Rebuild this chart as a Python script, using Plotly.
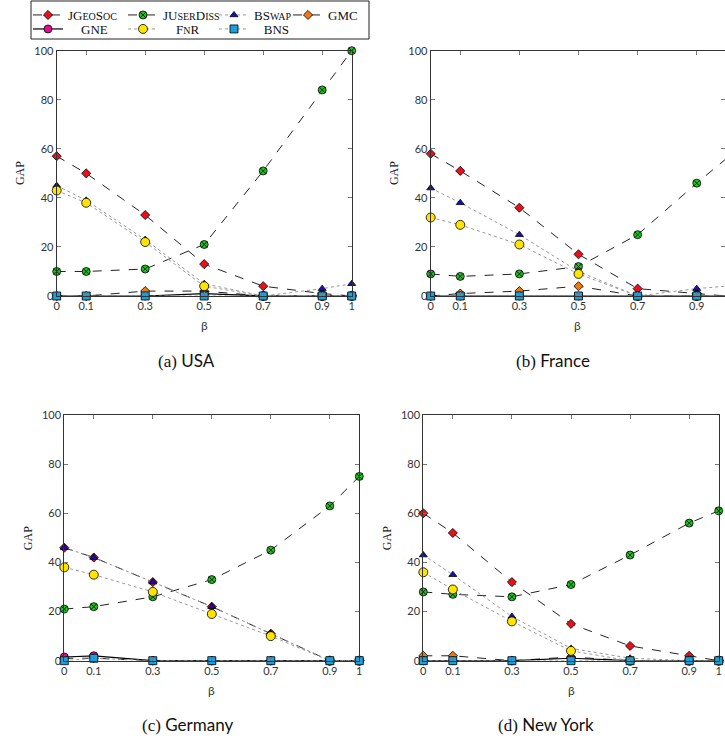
import plotly.graph_objects as go

W, H = 725, 742

beta = [0, 0.1, 0.3, 0.5, 0.7, 0.9, 1]
beta_ticks = ["0", "0.1", "0.3", "0.5", "0.7", "0.9", "1"]
gap_ticks = [0, 20, 40, 60, 80, 100]

# values per panel: JGeoSoc, JUserDiss, BSwap, GMC, GNE, FnR, BNS
usa_jgeosoc = [57, 50, 33, 13, 4, 1, 0]
usa_juserdiss = [10, 10, 11, 21, 51, 84, 100]
usa_bswap = [45, 39, 23, 5, 0, 3, 5]
usa_gmc = [0, 0, 2, 2, 0, 0, 0]
usa_gne = [0, 0, 0, 1, 0, 0, 0]
usa_fnr = [43, 38, 22, 4, 0, 0, 0]
usa_bns = [0, 0, 0, 0, 0, 0, 0]

fr_jgeosoc = [58, 51, 36, 17, 3, 1, 0]
fr_juserdiss = [9, 8, 9, 12, 25, 46, 56]
fr_bswap = [44, 38, 25, 10, 0, 3, 4]
fr_gmc = [0, 1, 2, 4, 0, 0, 0]
fr_gne = [0, 0, 0, 0, 0, 0, 0]
fr_fnr = [32, 29, 21, 9, 0, 0, 0]
fr_bns = [0, 0, 0, 0, 0, 0, 0]

de_jgeosoc = [46, 42, 32, 22, 11, 0, 0]
de_juserdiss = [21, 22, 26, 33, 45, 63, 75]
de_bswap = [46, 42, 32, 22, 11, 0, 0]
de_gmc = [1, 1, 0, 0, 0, 0, 0]
de_gne = [1.5, 2, 0, 0, 0, 0, 0]
de_fnr = [38, 35, 28, 19, 10, 0, 0]
de_bns = [0, 1, 0, 0, 0, 0, 0]

ny_jgeosoc = [60, 52, 32, 15, 6, 2, 0]
ny_juserdiss = [28, 27, 26, 31, 43, 56, 61]
ny_bswap = [43, 35, 18, 5, 1, 0, 0]
ny_gmc = [2, 2, 0, 1.5, 0, 0, 0]
ny_gne = [0, 0, 0, 1, 0, 0, 0]
ny_fnr = [36, 29, 16, 4, 0, 0, 0]
ny_bns = [0, 0, 0, 0, 0, 0, 0]

panels = [
    ("(a)", "USA", [usa_jgeosoc, usa_juserdiss, usa_bswap, usa_gmc, usa_gne, usa_fnr, usa_bns]),
    ("(b)", "France", [fr_jgeosoc, fr_juserdiss, fr_bswap, fr_gmc, fr_gne, fr_fnr, fr_bns]),
    ("(c)", "Germany", [de_jgeosoc, de_juserdiss, de_bswap, de_gmc, de_gne, de_fnr, de_bns]),
    ("(d)", "New York", [ny_jgeosoc, ny_juserdiss, ny_bswap, ny_gmc, ny_gne, ny_fnr, ny_bns]),
]

def sc(s):
    return "<span style='font-size:10px'>%s</span>" % s

NB = "\u00a0"
series_names = [
    "JG" + sc("EO") + "S" + sc("OC"),
    "JU" + sc("SER") + "D" + sc("ISS"),
    "BS" + sc("WAP"),
    "GMC",
    NB * 4 + "GNE",
    NB * 4 + "F" + sc("N") + "R",
    NB * 3 + "BNS",
]
styles = [
    dict(line=dict(color="#222", dash="dash", width=1), marker=dict(symbol="diamond", size=7, color="#e8101a")),
    dict(line=dict(color="#222", dash="dash", width=1), marker=dict(symbol="circle-x", size=8, color="#1fc41f")),
    dict(line=dict(color="#999", dash="dot", width=1), marker=dict(symbol="triangle-up", size=7, color="#1010c0")),
    dict(line=dict(color="#222", dash="dash", width=1), marker=dict(symbol="diamond", size=7, color="#f07a10")),
    dict(line=dict(color="#000", dash="solid", width=1.2), marker=dict(symbol="circle", size=8, color="#e0108a")),
    dict(line=dict(color="#999", dash="dot", width=1), marker=dict(symbol="circle", size=9, color="#ffe400")),
    dict(line=dict(color="#999", dash="dot", width=1), marker=dict(symbol="square", size=8, color="#1aa0dc")),
]
# legend entry positions (left x of item, top y of entry), pixels
leg_x = [28, 123, 214, 288, 28, 123, 214]
leg_top = [0, 0, 0, 0, 14, 14, 14]

# plot-area pixel boxes (left, right, top, bottom)
boxes = [
    (56.7, 351.7, 50.7, 296.0),
    (430.7, 725.0, 50.7, 296.0),
    (64.3, 359.3, 415.0, 660.7),
    (423.3, 718.7, 415.0, 660.7),
]
xranges = [[0, 1], [0, (725.0 - 430.7) / 295.6], [0, 1], [0, 1]]

fig = go.Figure()
serif = "Liberation Serif"
sans = "Lato"

annotations = []
for p, (lab, name, vals) in enumerate(panels):
    xa = "x" if p == 0 else "x%d" % (p + 1)
    ya = "y" if p == 0 else "y%d" % (p + 1)
    for i, v in enumerate(vals):
        st = styles[i]
        fig.add_trace(go.Scatter(
            x=beta, y=v, mode="lines+markers", name=series_names[i],
            xaxis=xa, yaxis=ya, cliponaxis=False,
            line=st["line"],
            marker=dict(symbol=st["marker"]["symbol"], size=st["marker"]["size"],
                        color=st["marker"]["color"], line=dict(color="#000", width=0.8)),
            showlegend=(p == 0), legend=("legend" if i == 0 else "legend%d" % (i + 1)),
        ))
    l, r, t, b = boxes[p]
    xd = [l / W, r / W]
    yd = [1 - b / H, 1 - t / H]
    axkey = "xaxis" if p == 0 else "xaxis%d" % (p + 1)
    aykey = "yaxis" if p == 0 else "yaxis%d" % (p + 1)
    common = dict(showline=True, linecolor="#333", linewidth=1, mirror="ticks",
                  ticks="inside", ticklen=4, tickcolor="#777", showgrid=False,
                  zeroline=False, tickfont=dict(family=sans, size=11, color="#333"))
    fig.update_layout(**{
        axkey: dict(domain=xd, range=xranges[p], tickvals=beta, ticktext=beta_ticks,
                    anchor=ya, **common),
        aykey: dict(domain=yd, range=[0, 100], tickvals=gap_ticks, anchor=xa, **common),
    })
    cx = (l + min(r, l + 295.5)) / 2
    ann = dict(xref="paper", yref="paper", xanchor="center", yanchor="middle", showarrow=False)
    annotations.append(dict(text="GAP", x=(l - 36) / W, y=1 - (t + b) / 2 / H, textangle=-90,
                            font=dict(family=serif, size=12, color="#222"), **ann))
    annotations.append(dict(text="β", x=cx / W, y=1 - (b + 29.5) / H,
                            font=dict(family=sans, size=12, color="#333"), **ann))
    capx = [186, 553, 187, 546][p]
    annotations.append(dict(text="<span style='font-family:%s'>%s</span> %s" % (serif, lab, name),
                            x=capx / W, y=1 - (b + 64) / H,
                            font=dict(family=sans, size=17, color="#111"), **ann))

legends = {}
for i in range(7):
    key = "legend" if i == 0 else "legend%d" % (i + 1)
    legends[key] = dict(orientation="v", xref="container", yref="container",
                        x=leg_x[i] / W, y=1 - leg_top[i] / H,
                        xanchor="left", yanchor="top", bgcolor="rgba(0,0,0,0)", borderwidth=0,
                        font=dict(family=serif, size=13, color="#111"), itemwidth=30)

fig.update_layout(
    width=W, height=H, margin=dict(l=0, r=0, t=0, b=0, autoexpand=False),
    plot_bgcolor="white", paper_bgcolor="white",
    annotations=annotations,
    shapes=[dict(type="rect", xref="paper", yref="paper", x0=31 / W, x1=369 / W,
                 y0=1 - 39 / H, y1=1 - 1 / H, line=dict(color="#222", width=1))],
    **legends,
)

fig.write_html("out.html", config={"displayModeBar": False},
               post_script="document.documentElement.style.margin='0px';"
                           "document.body.style.margin='0px';document.body.style.overflow='hidden';")
